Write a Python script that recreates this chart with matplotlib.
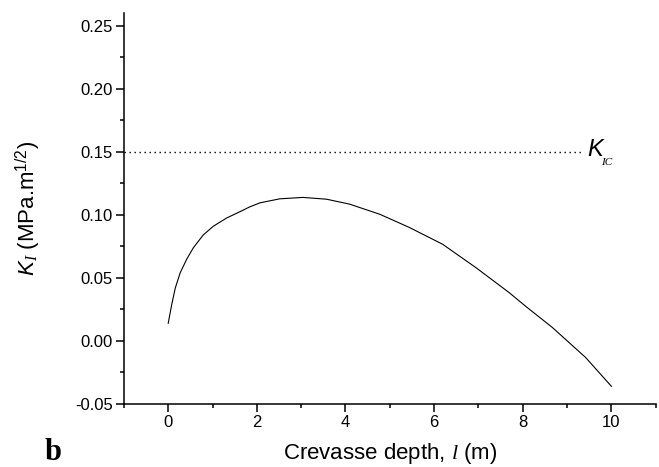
import matplotlib
matplotlib.use('Agg')
import matplotlib.pyplot as plt
from matplotlib.ticker import MultipleLocator, FormatStrFormatter

plt.rcParams['font.family'] = 'Liberation Sans'
plt.rcParams['mathtext.fontset'] = 'custom'
plt.rcParams['mathtext.rm'] = 'Liberation Sans'
plt.rcParams['mathtext.it'] = 'Liberation Serif:italic'
plt.rcParams['mathtext.sf'] = 'Liberation Sans:italic'

# crevasse depth (m) and stress intensity factor K_I (MPa.m^1/2)
depth = [0.0, 0.08, 0.16, 0.27, 0.42, 0.57, 0.79, 1.02, 1.32, 1.62, 1.84, 2.07, 2.52,
         3.04, 3.57, 4.09, 4.77, 5.44, 6.19, 6.94, 7.69, 8.1, 8.67, 9.42, 10.0]
k_i = [0.014, 0.029, 0.042, 0.054, 0.065, 0.074, 0.084, 0.091, 0.0975, 0.1025, 0.1063,
       0.1095, 0.1127, 0.1138, 0.1124, 0.1085, 0.1005, 0.090, 0.0767, 0.0582, 0.0384,
       0.0265, 0.0106, -0.0132, -0.036]

k_ic = 0.15
k_ic_end = 9.31

fig = plt.figure(figsize=(6.59, 4.67), dpi=100)
ax = fig.add_axes([0.188, 0.135, 0.807, 0.837])

ax.plot(depth, k_i, color='black', lw=0.8)
ax.plot([-1, k_ic_end], [k_ic, k_ic], color='black', lw=1.0, linestyle=(0, (1, 2.6)))

ax.text(9.45, 0.1465, 'K', fontsize=17, style='italic', ha='left', va='baseline')
ax.text(9.77, 0.1395, 'IC', fontsize=8, family='Liberation Serif', style='italic',
        ha='left', va='baseline')

ax.set_xlim(-1, 11)
ax.set_ylim(-0.05, 0.26)
ax.xaxis.set_major_locator(MultipleLocator(2))
ax.xaxis.set_minor_locator(MultipleLocator(1))
ax.yaxis.set_major_locator(MultipleLocator(0.05))
ax.yaxis.set_minor_locator(MultipleLocator(0.025))
ax.yaxis.set_major_formatter(FormatStrFormatter('%.2f'))

for s in ['top', 'right']:
    ax.spines[s].set_visible(False)
for s in ['left', 'bottom']:
    ax.spines[s].set_linewidth(1.1)

ax.tick_params(which='major', direction='out', length=6, width=1.1, labelsize=12, pad=2)
ax.tick_params(which='minor', direction='out', length=3, width=1.1)

ax.set_xlabel('Crevasse depth, $l$ (m)', fontsize=16)
ax.xaxis.set_label_coords(0.5, -0.095)
ax.set_ylabel(r'$\mathsf{K}_{I}$ (MPa.m$^{1/2}$)', fontsize=16)
ax.yaxis.set_label_coords(-0.154, 0.5)

fig.text(0.068, 0.015, 'b', fontsize=22, family='Liberation Serif', weight='bold')

fig.savefig('out.png', dpi=100)
